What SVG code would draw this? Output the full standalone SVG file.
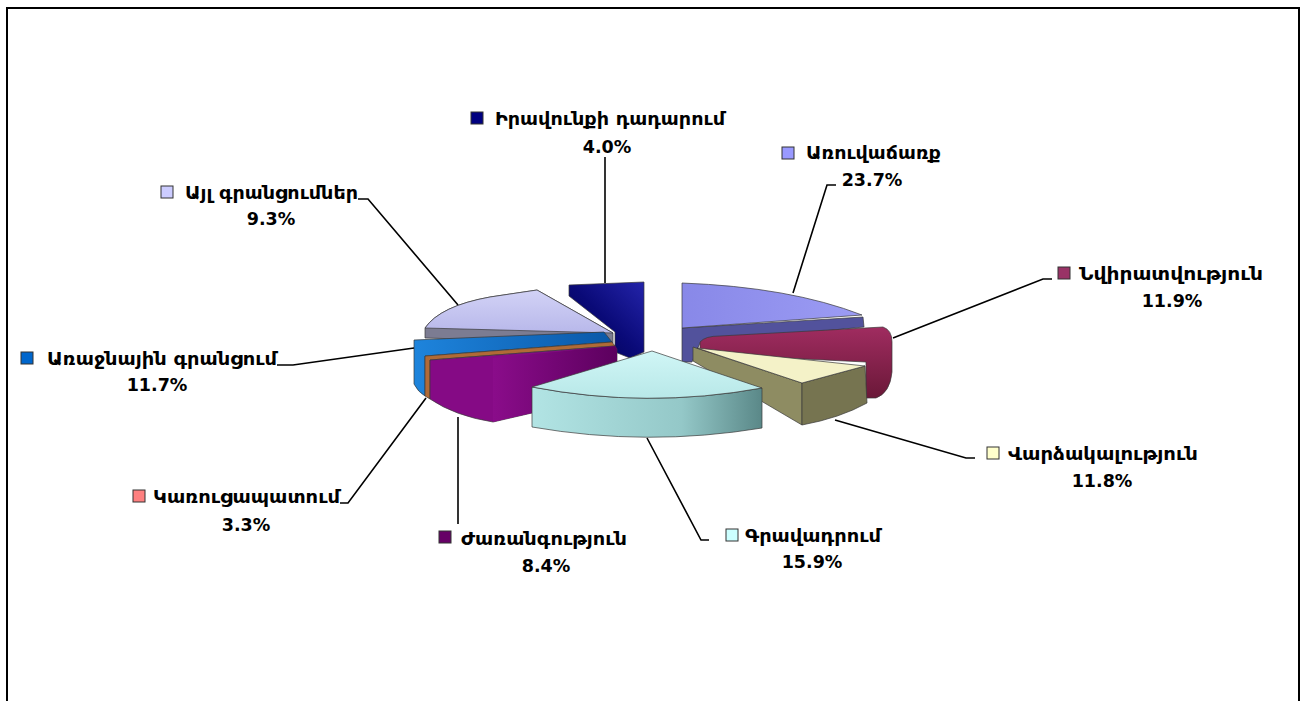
<svg xmlns="http://www.w3.org/2000/svg" width="1306" height="701" viewBox="0 0 1306 701">
<style>
.lbl{font-family:"DejaVu Sans","Noto Sans",sans-serif;font-size:18.5px;font-weight:bold;fill:#000}
.pct{font-family:"DejaVu Sans","Noto Sans",sans-serif;font-size:17.5px;font-weight:bold;fill:#000;text-anchor:middle}
.key{stroke:#333;stroke-width:1}
.edge{stroke:#3a3a3a;stroke-width:0.7;stroke-linejoin:round}
.lead{fill:none;stroke:#000;stroke-width:1.6}
</style>
<defs>
<linearGradient id="gNavy" x1="1" y1="0" x2="0" y2="1"><stop offset="0" stop-color="#2424aa"/><stop offset="0.5" stop-color="#0a0a78"/><stop offset="1" stop-color="#000048"/></linearGradient>
<linearGradient id="gLav" x1="0" y1="0" x2="0" y2="1"><stop offset="0" stop-color="#d2d2f6"/><stop offset="1" stop-color="#b8b8ea"/></linearGradient>
<linearGradient id="gPeri" x1="0" y1="0" x2="1" y2="0"><stop offset="0" stop-color="#8888e8"/><stop offset="1" stop-color="#9c9cf4"/></linearGradient>
<linearGradient id="gMar" x1="0" y1="0" x2="0" y2="1"><stop offset="0" stop-color="#a02c60"/><stop offset="1" stop-color="#6a1838"/></linearGradient>
<linearGradient id="gCyanTop" x1="0" y1="0" x2="0" y2="1"><stop offset="0" stop-color="#d0f6f6"/><stop offset="1" stop-color="#b8e8e8"/></linearGradient>
<linearGradient id="gCyanWall" x1="0" y1="0" x2="1" y2="0"><stop offset="0" stop-color="#b2e4e4"/><stop offset="0.65" stop-color="#94c8c8"/><stop offset="1" stop-color="#5a8888"/></linearGradient>
<linearGradient id="gPurp" x1="0" y1="0" x2="1" y2="0"><stop offset="0" stop-color="#8a0c8a"/><stop offset="1" stop-color="#5c005e"/></linearGradient>
<linearGradient id="gBlue" x1="0" y1="0" x2="1" y2="0"><stop offset="0" stop-color="#1e84dc"/><stop offset="1" stop-color="#0a58a8"/></linearGradient>
</defs>
<rect width="1306" height="701" fill="#fff"/>
<path d="M7,701 V8 H1299 V701" fill="none" stroke="#000" stroke-width="2"/>

<g id="ayl">
<path class="edge" d="M425,328 Q440,306 490,297 L537,290 L613,333 L613,343 L425,338 Z" fill="#7c7c92"/>
<path class="edge" d="M425,328 Q440,306 490,297 L537,290 L613,333 Z" fill="url(#gLav)"/>
<rect class="key" x="161" y="186" width="12" height="12" fill="#ccccff"/>
<text class="lbl" x="185" y="199" textLength="173" lengthAdjust="spacingAndGlyphs">Այլ գրանցումներ</text>
<text class="pct" x="271" y="225">9.3%</text>
</g>

<g id="iravunk">
<path class="edge" d="M569,285 L644,282 L644,352 L630,358 L615,352 L615,332 L569,296 Z" fill="url(#gNavy)"/>
<rect class="key" x="471" y="112" width="12" height="12" fill="#000080"/>
<text class="lbl" x="495" y="125" textLength="230" lengthAdjust="spacingAndGlyphs">Իրավունքի դադարում</text>
<text class="pct" x="607" y="153">4.0%</text>
</g>

<g id="arruvacharr">
<path class="edge" d="M682,328 L863,317 L864,327 L700,343 L692,362 L682,362 Z" fill="#52529c"/>
<path class="edge" d="M682,283 Q790,287 862,315 L682,328 Z" fill="url(#gPeri)"/>
<rect class="key" x="782" y="147" width="12" height="12" fill="#9999ff"/>
<text class="lbl" x="806" y="159" textLength="135" lengthAdjust="spacingAndGlyphs">Առուվաճառք</text>
<text class="pct" x="872" y="186">23.7%</text>
</g>

<g id="nvirat">
<path class="edge" d="M700,342 Q705,336 720,336 L883,327 Q892,330 892,342 L892,372 Q890,393 876,398 L866,398 L866,362 L700,354 Z" fill="url(#gMar)"/>
<rect class="key" x="1058" y="267" width="12" height="12" fill="#993366"/>
<text class="lbl" x="1079" y="280" textLength="184" lengthAdjust="spacingAndGlyphs">Նվիրատվություն</text>
<text class="pct" x="1172" y="307">11.9%</text>
</g>

<g id="araj">
<path class="edge" d="M414,340 L604,332 L612,342 L425,356 L425,396 Q418,392 414,384 Z" fill="url(#gBlue)"/>
<rect class="key" x="21" y="352" width="12" height="12" fill="#0066cc"/>
<text class="lbl" x="47" y="365" textLength="230" lengthAdjust="spacingAndGlyphs">Առաջնային գրանցում</text>
<text class="pct" x="157" y="391">11.7%</text>
</g>

<g id="karruts">
<path class="edge" d="M425,356 L612,342 L615,346 L430,360 L430,399 L425,396 Z" fill="#b06a36"/>
<rect class="key" x="133" y="490" width="12" height="12" fill="#ff8080"/>
<text class="lbl" x="153" y="503" textLength="187" lengthAdjust="spacingAndGlyphs">Կառուցապատում</text>
<text class="pct" x="246" y="531">3.3%</text>
</g>

<g id="zharang">
<path class="edge" d="M430,360 L615,346 L617,349 L617,386 L532,413 L493,422 Q455,416 430,399 Z" fill="#850a85"/>
<path d="M493,358 L615,346 L617,349 L617,386 L532,413 L493,422 Z" fill="url(#gPurp)"/>
<rect class="key" x="439" y="531" width="12" height="12" fill="#660066"/>
<text class="lbl" x="461" y="545" textLength="166" lengthAdjust="spacingAndGlyphs">Ժառանգություն</text>
<text class="pct" x="546" y="572">8.4%</text>
</g>

<g id="vardz">
<path class="edge" d="M693,347 L802,383 L802,425 L693,361 Z" fill="#8e8c62"/>
<path class="edge" d="M802,383 L865,366 L867,403 Q840,418 802,425 Z" fill="#767450"/>
<path class="edge" d="M697,348 L865,366 L802,383 Z" fill="#f4f2c8"/>
<rect class="key" x="987" y="447" width="12" height="12" fill="#ffffcc"/>
<text class="lbl" x="1008" y="460" textLength="190" lengthAdjust="spacingAndGlyphs">Վարձակալություն</text>
<text class="pct" x="1102" y="487">11.8%</text>
</g>

<g id="grav">
<path class="edge" d="M532,387 Q647,409 762,388 L762,428 Q647,447 532,427 Z" fill="url(#gCyanWall)"/>
<path class="edge" d="M652,351 L532,387 Q647,409 762,388 Z" fill="url(#gCyanTop)"/>
<rect class="key" x="726" y="529" width="12" height="12" fill="#ccffff"/>
<text class="lbl" x="745" y="542" textLength="136" lengthAdjust="spacingAndGlyphs">Գրավադրում</text>
<text class="pct" x="812" y="568">15.9%</text>
</g>

<g id="connectors">
<polyline class="lead" points="605,157 605,283"/>
<polyline class="lead" points="836,185 827,185 793,293"/>
<polyline class="lead" points="1052,279 1043,279 893,338"/>
<polyline class="lead" points="835,420 966,458 975,458"/>
<polyline class="lead" points="647,438 701,540 709,540"/>
<polyline class="lead" points="458,417 458,524"/>
<polyline class="lead" points="340,503 348,503 426,398"/>
<polyline class="lead" points="277,365 293,365 414,348"/>
<polyline class="lead" points="358,199 368,199 458,305"/>
</g>
</svg>
